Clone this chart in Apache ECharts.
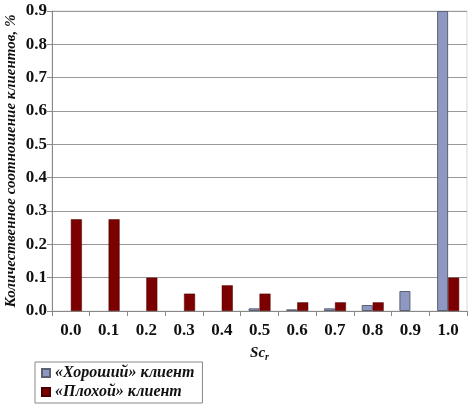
<!DOCTYPE html>
<html>
<head>
<meta charset="utf-8">
<script src="https://cdn.jsdelivr.net/npm/echarts@6/dist/echarts.min.js"></script>
<style>
    html, body { margin: 0; padding: 0; background: #fff; }
    #chart { width: 475px; height: 415px; }
</style>
</head>
<body>
<div id="chart"></div>
<script>
// данные
let categories = ['0.0', '0.1', '0.2', '0.3', '0.4', '0.5', '0.6', '0.7', '0.8', '0.9', '1.0'];
let goodClient = [0, 0, 0, 0, 0, 0.008, 0.005, 0.008, 0.018, 0.06, 0.9];
let badClient = [0.275, 0.275, 0.1, 0.052, 0.077, 0.052, 0.026, 0.026, 0.026, 0, 0.1];
let seriesNames = ['«Хороший» клиент', '«Плохой» клиент'];

// нулевые столбцы не рисуем
function noZero(arr) {
    return arr.map(function (v) { return v === 0 ? '-' : v; });
}

(function () {
    let myChart = echarts.init(document.getElementById('chart'));
    let serif = '"Liberation Serif", "DejaVu Serif", serif';
    let option = {
        animation: false,
        textStyle: { fontFamily: serif },
        grid: {
            left: 52, right: 8, top: 11, bottom: 104,
            containLabel: false, outerBoundsMode: 'none',
            show: true, borderColor: '#d8d8d8', borderWidth: 1
        },
        legend: {
            orient: 'vertical',
            left: 35,
            top: 362,
            padding: [3, 8, 3, 6],
            itemGap: 3,
            itemWidth: 8,
            itemHeight: 8,
            icon: 'rect',
            borderColor: '#888',
            borderWidth: 1,
            textStyle: { fontFamily: serif, fontSize: 16, fontWeight: 'bold', fontStyle: 'italic', color: '#111' },
            data: seriesNames
        },
        xAxis: {
            type: 'category',
            data: categories,
            name: '{a|Sc}{b|r}',
            nameLocation: 'middle',
            nameGap: 33,
            nameMoveOverlap: false,
            nameTextStyle: {
                rich: {
                    a: { fontFamily: serif, fontSize: 15, fontWeight: 'bold', fontStyle: 'italic', color: '#111' },
                    b: { fontFamily: serif, fontSize: 10, fontWeight: 'bold', fontStyle: 'italic', color: '#111', padding: [8, 0, 0, 0] }
                }
            },
            axisLine: { lineStyle: { color: '#888' } },
            axisTick: { show: true, length: 5, lineStyle: { color: '#888' } },
            axisLabel: { fontFamily: serif, fontSize: 17, fontWeight: 'bold', color: '#111', margin: 11 }
        },
        yAxis: {
            type: 'value',
            min: 0,
            max: 0.9,
            interval: 0.1,
            name: 'Количественное соотношение клиентов, %',
            nameLocation: 'middle',
            nameGap: 33,
            nameMoveOverlap: false,
            nameTextStyle: { fontFamily: serif, fontSize: 15, fontWeight: 'bold', fontStyle: 'italic', color: '#111' },
            axisLine: { show: true, lineStyle: { color: '#888' } },
            axisTick: { show: true, length: 5, lineStyle: { color: '#888' } },
            axisLabel: {
                fontFamily: serif, fontSize: 17, fontWeight: 'bold', color: '#111', margin: 5,
                formatter: function (v) { return v.toFixed(1); }
            },
            splitLine: { lineStyle: { color: '#999', width: 1 } }
        },
        series: [
            {
                name: seriesNames[0],
                type: 'bar',
                data: noZero(goodClient),
                barWidth: 11,
                barGap: '0%',
                itemStyle: { color: '#8f98c2', borderColor: '#5c6172', borderWidth: 1 }
            },
            {
                name: seriesNames[1],
                type: 'bar',
                data: noZero(badClient),
                barWidth: 11,
                barGap: '0%',
                itemStyle: { color: '#7c0000', borderColor: '#4a0000', borderWidth: 0.5 }
            }
        ]
    };
    myChart.setOption(option);
    window.addEventListener('resize', function () {
        myChart.resize()
    })
})();
</script>
</body>
</html>
